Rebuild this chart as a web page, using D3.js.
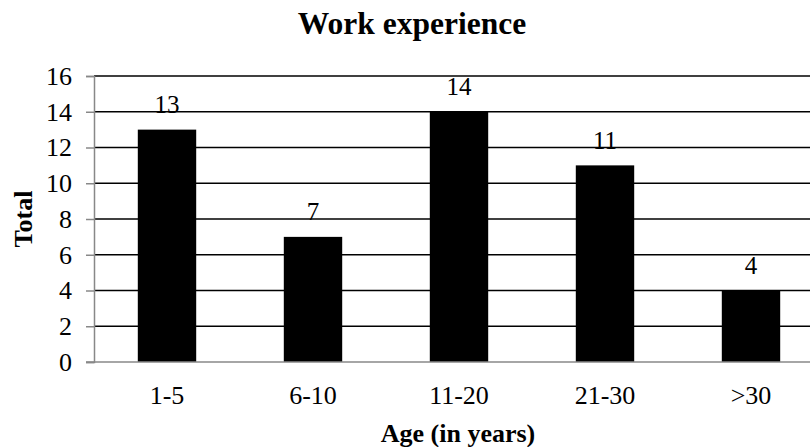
<!DOCTYPE html>
<html>
<head>
<meta charset="utf-8">
<script src="https://cdn.jsdelivr.net/npm/d3@7"></script>
<style>
  body { margin: 0; background: #fff; }
  svg text { font-family: "Liberation Serif", "Times New Roman", serif; fill: #000; }
</style>
</head>
<body>
<div id="chart"></div>
<script>
// data
const categories = ["1-5", "6-10", "11-20", "21-30", ">30"];
const totals = [13, 7, 14, 11, 4];
const yTicks = [0, 2, 4, 6, 8, 10, 12, 14, 16];

const width = 810;
const height = 447;
const margin = { top: 76, right: -14, bottom: 85, left: 94 };
const serif = '"Liberation Serif", "Times New Roman", serif';

const svg = d3.select("#chart")
  .append("svg")
  .attr("width", width)
  .attr("height", height);

const x = d3.scaleBand()
  .domain(categories)
  .range([margin.left, width - margin.right])
  .paddingInner(0.6)
  .paddingOuter(0.3);

const y = d3.scaleLinear()
  .domain([0, 16])
  .range([height - margin.bottom, margin.top]);

// horizontal gridlines
svg.append("g")
  .selectAll("line")
  .data(yTicks.filter(d => d > 0))
  .enter()
  .append("line")
  .attr("x1", margin.left)
  .attr("x2", width)
  .attr("y1", d => y(d))
  .attr("y2", d => y(d))
  .attr("stroke", "#000")
  .attr("stroke-width", 1.3);

// bars
svg.append("g")
  .selectAll("rect")
  .data(totals)
  .enter()
  .append("rect")
  .attr("x", (d, i) => x(categories[i]))
  .attr("y", d => y(d))
  .attr("width", x.bandwidth())
  .attr("height", d => y(0) - y(d))
  .attr("fill", "#000");

// value labels
svg.append("g")
  .selectAll("text")
  .data(totals)
  .enter()
  .append("text")
  .attr("x", (d, i) => x(categories[i]) + x.bandwidth() / 2)
  .attr("y", d => y(d) - 16.5)
  .attr("text-anchor", "middle")
  .style("font-size", "25px")
  .text(d => d);

// y axis
const yAxis = svg.append("g")
  .attr("transform", `translate(${margin.left},0)`)
  .call(d3.axisLeft(y).tickValues(yTicks).tickSize(8).tickPadding(14));
yAxis.select(".domain").attr("stroke", "#888").attr("stroke-width", 1.5);
yAxis.selectAll(".tick line").attr("stroke", "#888").attr("stroke-width", 1.5);
yAxis.selectAll(".tick text")
  .style("font-family", serif)
  .style("font-size", "26px");

// x axis
const xAxis = svg.append("g")
  .attr("transform", `translate(0,${y(0)})`)
  .call(d3.axisBottom(x).tickSize(0).tickPadding(23.5));
xAxis.select(".domain").attr("stroke", "#888").attr("stroke-width", 1.5)
  .attr("d", `M${margin.left - 8},0H${width}`);
xAxis.selectAll(".tick text")
  .style("font-family", serif)
  .style("font-size", "26px");

// titles
svg.append("text")
  .attr("x", 412)
  .attr("y", 34)
  .attr("text-anchor", "middle")
  .style("font-size", "31.5px")
  .style("font-weight", "bold")
  .text("Work experience");

svg.append("text")
  .attr("x", 458)
  .attr("y", 442)
  .attr("text-anchor", "middle")
  .style("font-size", "26px")
  .style("font-weight", "bold")
  .text("Age (in years)");

svg.append("text")
  .attr("transform", `translate(32,${y(8)}) rotate(-90)`)
  .attr("text-anchor", "middle")
  .style("font-size", "26px")
  .style("font-weight", "bold")
  .text("Total");
</script>
</body>
</html>
